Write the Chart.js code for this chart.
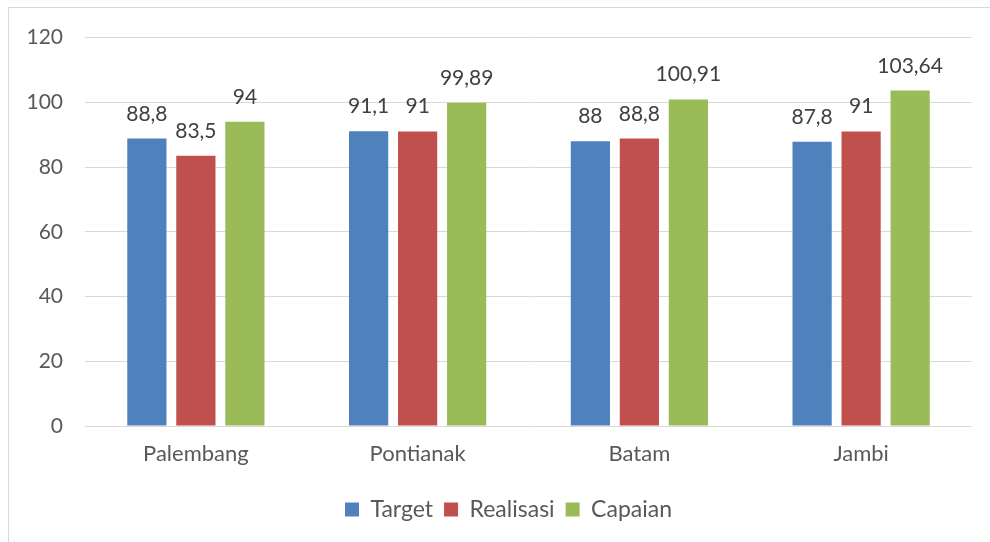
<!DOCTYPE html>
<html>
<head>
<meta charset="utf-8">
<script src="https://cdn.jsdelivr.net/npm/chart.js@4/dist/chart.umd.min.js"></script>
<style>
    body { margin: 0; background: #fff; overflow: hidden; }
    #wrap {
        position: absolute; left: 8px; top: 7px;
        width: 981px; height: 534px; overflow: hidden;
        border: 1px solid #d9d9d9; border-right: none; border-bottom: none;
    }
    #inner { position: absolute; left: 0; top: -5px; width: 981px; height: 534px; }
</style>
</head>
<body>
<div id="wrap"><div id="inner"><canvas id="chart"></canvas></div></div>
<script>
// values
const cities = ["Palembang", "Pontianak", "Batam", "Jambi"];
const target = [88.8, 91.1, 88, 87.8];
const realisasi = [83.5, 91, 88.8, 91];
const capaian = [94, 99.89, 100.91, 103.64];
const yTicks = [0, 20, 40, 60, 80, 100, 120];

const FONT = "Lato";

// labels above each bar, comma as decimal sign
const barLabels = {
    id: "barLabels",
    afterDatasetsDraw(chart) {
        const ctx = chart.ctx;
        ctx.save();
        ctx.font = "21px " + FONT;
        ctx.fillStyle = "#404040";
        ctx.textAlign = "center";
        ctx.textBaseline = "alphabetic";
        chart.data.datasets.forEach((ds, i) => {
            chart.getDatasetMeta(i).data.forEach((bar, j) => {
                const txt = String(ds.data[j]).replace(".", ",");
                ctx.fillText(txt, bar.x, bar.y - 18);
            });
        });
        ctx.restore();
    }
};

// nudge legend a bit to the right
const legendShift = {
    id: "legendShift",
    afterLayout(chart) {
        chart.legend.left += 18;
        chart.legend.right += 18;
    }
};

new Chart(document.getElementById("chart"), {
    type: "bar",
    data: {
        labels: cities,
        datasets: [
            { label: "Target", data: target, backgroundColor: "#4f81bd" },
            { label: "Realisasi", data: realisasi, backgroundColor: "#c0504d" },
            { label: "Capaian", data: capaian, backgroundColor: "#9bbb59" }
        ]
    },
    options: {
        animation: false,
        responsive: true,
        maintainAspectRatio: false,
        categoryPercentage: 0.663,
        barPercentage: 0.8,
        layout: { autoPadding: false, padding: { top: 29, right: 18, left: 0, bottom: 6 } },
        scales: {
            x: {
                grid: { display: false },
                border: { display: false },
                ticks: { color: "#595959", font: { family: FONT, size: 22 }, padding: 7 },
                afterFit: s => { s.height = 61; }
            },
            y: {
                min: 0,
                max: 120,
                afterBuildTicks: s => { s.ticks = yTicks.map(v => ({ value: v })); },
                grid: { color: "#d9d9d9", drawTicks: false },
                border: { display: false },
                ticks: { color: "#595959", font: { family: FONT, size: 21 }, padding: 22 },
                afterFit: s => { s.width = 76; }
            }
        },
        plugins: {
            legend: {
                position: "bottom",
                labels: {
                    color: "#595959",
                    font: { family: FONT, size: 23 },
                    boxWidth: 14,
                    boxHeight: 14,
                    padding: 11
                }
            },
            tooltip: { enabled: false }
        }
    },
    plugins: [barLabels, legendShift]
});
</script>
</body>
</html>
